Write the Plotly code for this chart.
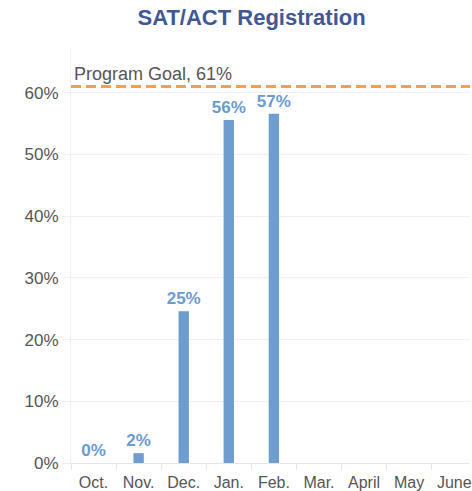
import plotly.graph_objects as go

months = ["Oct.", "Nov.", "Dec.", "Jan.", "Feb.", "Mar.", "April", "May", "June"]
values = [0.0, 0.016, 0.246, 0.556, 0.566, None, None, None, None]
goal = 0.61
goal_label = "Program Goal, 61%"
title = "SAT/ACT Registration"
ytick_vals = [0, 0.1, 0.2, 0.3, 0.4, 0.5, 0.6]

FONT = "Liberation Sans, Arial"

fig = go.Figure()
fig.add_trace(go.Bar(
    x=months, y=values, width=0.23,
    marker=dict(color="#6F9DD0", line=dict(width=0)),
    texttemplate="%{y:.0%}", textposition="outside", cliponaxis=False,
    constraintext="none",
    textfont=dict(family=FONT, size=17, color="#6A9BD1", weight="bold"),
    hoverinfo="skip",
))
fig.add_hline(y=goal, line=dict(color="#F5A04A", width=3, dash="10px,5px"))
fig.add_annotation(x=0, xref="paper", xanchor="left", y=goal, yref="y", yanchor="bottom",
                   xshift=1, yshift=1, text=goal_label, showarrow=False,
                   font=dict(family=FONT, size=18, color="#555555"))

fig.update_layout(
    width=472, height=491,
    margin=dict(l=71, r=0, t=48, b=28),
    paper_bgcolor="white", plot_bgcolor="white",
    showlegend=False,
    title=dict(text="<b>" + title + "</b>", x=0.533, xanchor="center", y=0.965, yanchor="middle",
               font=dict(family=FONT, size=22, color="#3F5896")),
    bargap=0.77,
)
fig.update_xaxes(
    type="category", range=[-0.5, 8.35],
    tickson="boundaries", ticks="outside", ticklen=6, tickcolor="#e6e6e6",
    ticklabelstandoff=5,
    showline=True, linecolor="#e6e6e6", showgrid=False,
    tickfont=dict(family=FONT, size=16, color="#555555"),
)
fig.update_yaxes(
    range=[0, 0.6726], tickvals=ytick_vals, tickformat=".0%",
    showgrid=True, gridcolor="#f0f0f0", zeroline=False,
    showline=True, linecolor="#eeeeee",
    ticks="outside", ticklen=8, tickcolor="#f0f0f0",
    tickfont=dict(family=FONT, size=17, color="#555555"),
)
fig.write_html("out.html", config={"displayModeBar": False},
               post_script="document.body.style.margin='0';document.body.style.overflow='hidden';")
